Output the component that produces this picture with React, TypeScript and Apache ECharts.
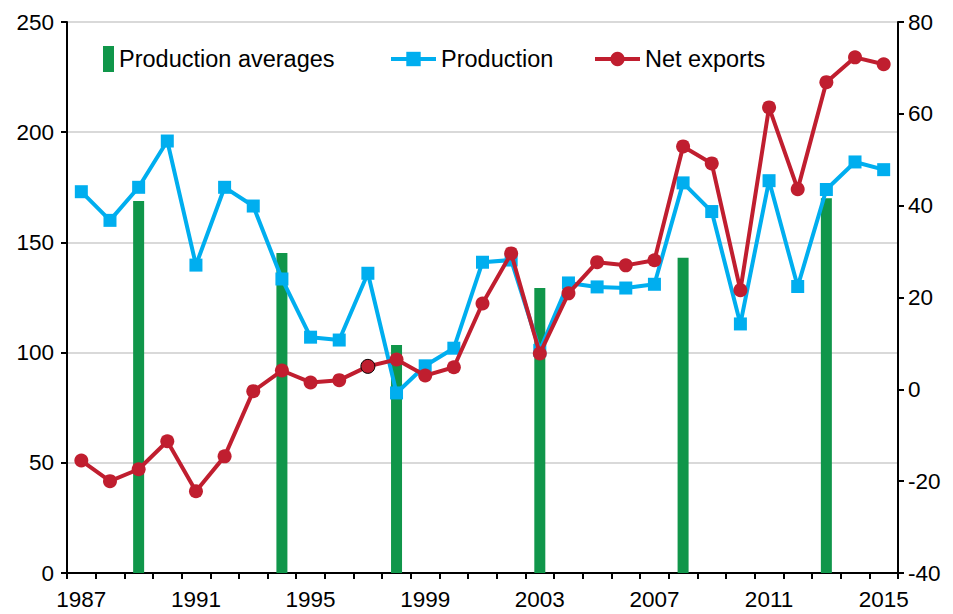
import React, { useEffect, useRef } from "react";
import * as echarts from "echarts";

const years = [
  "1987","1988","1989","1990","1991","1992","1993","1994","1995","1996",
  "1997","1998","1999","2000","2001","2002","2003","2004","2005","2006",
  "2007","2008","2009","2010","2011","2012","2013","2014","2015",
];

const production = [
  173, 160, 175, 196, 139.7, 175, 166.5, 133.4, 107, 105.7,
  136, 81.7, 94, 102, 141, 142, 101, 131.6, 129.8, 129.3,
  131, 177, 164, 113, 178, 130, 174, 186.5, 183,
];

const netExports = [
  -15.5, -20, -17.4, -11.3, -22.2, -14.6, -0.4, 4.1, 1.5, 2,
  5, 6.5, 3, 4.8, 18.7, 29.6, 7.8, 20.9, 27.7, 27,
  28.1, 52.9, 49.2, 21.6, 61.4, 43.6, 66.9, 72.3, 70.8,
];

const averageYears = ["1989", "1994", "1998", "2003", "2008", "2013"];
const averageValues = [168.8, 145.2, 103.4, 129.3, 143, 170];

const leftTicks = { min: 0, max: 250, interval: 50 };
const rightTicks = { min: -40, max: 80, interval: 20 };

const FONT = 'Helvetica, "Liberation Sans", Arial, sans-serif';
const GREEN = "#10964a";
const BLUE = "#00aeef";
const RED = "#c01e2f";

export default function App() {
  const ref = useRef<HTMLDivElement>(null);
  useEffect(() => {
    if (!ref.current) return;
    const chart = echarts.init(ref.current, undefined, { renderer: "svg" });
    const barData = years.map((y) => {
      const i = averageYears.indexOf(y);
      return i >= 0 ? averageValues[i] : null;
    });
    const netData = netExports.map((v, i) =>
      years[i] === "1997"
        ? { value: v, itemStyle: { borderColor: "#000", borderWidth: 1 } }
        : v
    );
    const textStyle = { fontFamily: FONT, fontSize: 23.5, color: "#000" };
    const axisFont = { fontSize: 22.5, color: "#000", fontFamily: FONT };
    chart.setOption({
      animation: false,
      textStyle: { fontFamily: FONT },
      grid: { left: 67, right: 55, top: 22, bottom: 41, containLabel: false },
      legend: [
        {
          data: ["Production averages"],
          left: 103,
          top: 46,
          padding: 0,
          itemWidth: 11,
          itemHeight: 26,
          icon: "rect",
          textStyle,
        },
        {
          data: ["Production"],
          left: 389,
          top: 47,
          padding: 0,
          itemWidth: 45,
          itemHeight: 18,
          lineStyle: { width: 4 },
          textStyle,
        },
        {
          data: ["Net exports"],
          left: 593,
          top: 47,
          padding: 0,
          itemWidth: 45,
          itemHeight: 18,
          lineStyle: { width: 4 },
          textStyle,
        },
      ],
      xAxis: {
        type: "category",
        data: years,
        boundaryGap: true,
        axisLine: { lineStyle: { color: "#000", width: 2 } },
        axisTick: { show: true, length: 6, lineStyle: { color: "#000", width: 2 }, interval: 0 },
        axisLabel: { interval: 3, margin: 15, ...axisFont },
        splitLine: { show: false },
      },
      yAxis: [
        {
          type: "value",
          ...leftTicks,
          position: "left",
          axisLine: { show: true, lineStyle: { color: "#000", width: 2 } },
          axisTick: { show: true, length: 6, lineStyle: { color: "#000", width: 2 } },
          axisLabel: { margin: 13, ...axisFont },
          splitLine: { show: true, lineStyle: { color: "#cccccc", width: 1.5 } },
        },
        {
          type: "value",
          ...rightTicks,
          position: "right",
          axisLine: { show: true, lineStyle: { color: "#000", width: 2 } },
          axisTick: { show: true, length: 6, lineStyle: { color: "#000", width: 2 } },
          axisLabel: { margin: 10, ...axisFont },
          splitLine: { show: false },
        },
      ],
      series: [
        {
          name: "Production averages",
          type: "bar",
          yAxisIndex: 0,
          data: barData,
          barWidth: 11,
          itemStyle: { color: GREEN },
          z: 1,
        },
        {
          name: "Production",
          type: "line",
          yAxisIndex: 0,
          data: production,
          symbol: "rect",
          symbolSize: 13,
          showAllSymbol: true,
          lineStyle: { color: BLUE, width: 4 },
          itemStyle: { color: BLUE },
          z: 2,
        },
        {
          name: "Net exports",
          type: "line",
          yAxisIndex: 1,
          data: netData,
          symbol: "circle",
          symbolSize: 14,
          showAllSymbol: true,
          lineStyle: { color: RED, width: 4 },
          itemStyle: { color: RED },
          z: 3,
        },
      ],
    });
    return () => chart.dispose();
  }, []);
  return <div ref={ref} style={{ width: 953, height: 614, position: "absolute", left: 0, top: 0 }} />;
}
